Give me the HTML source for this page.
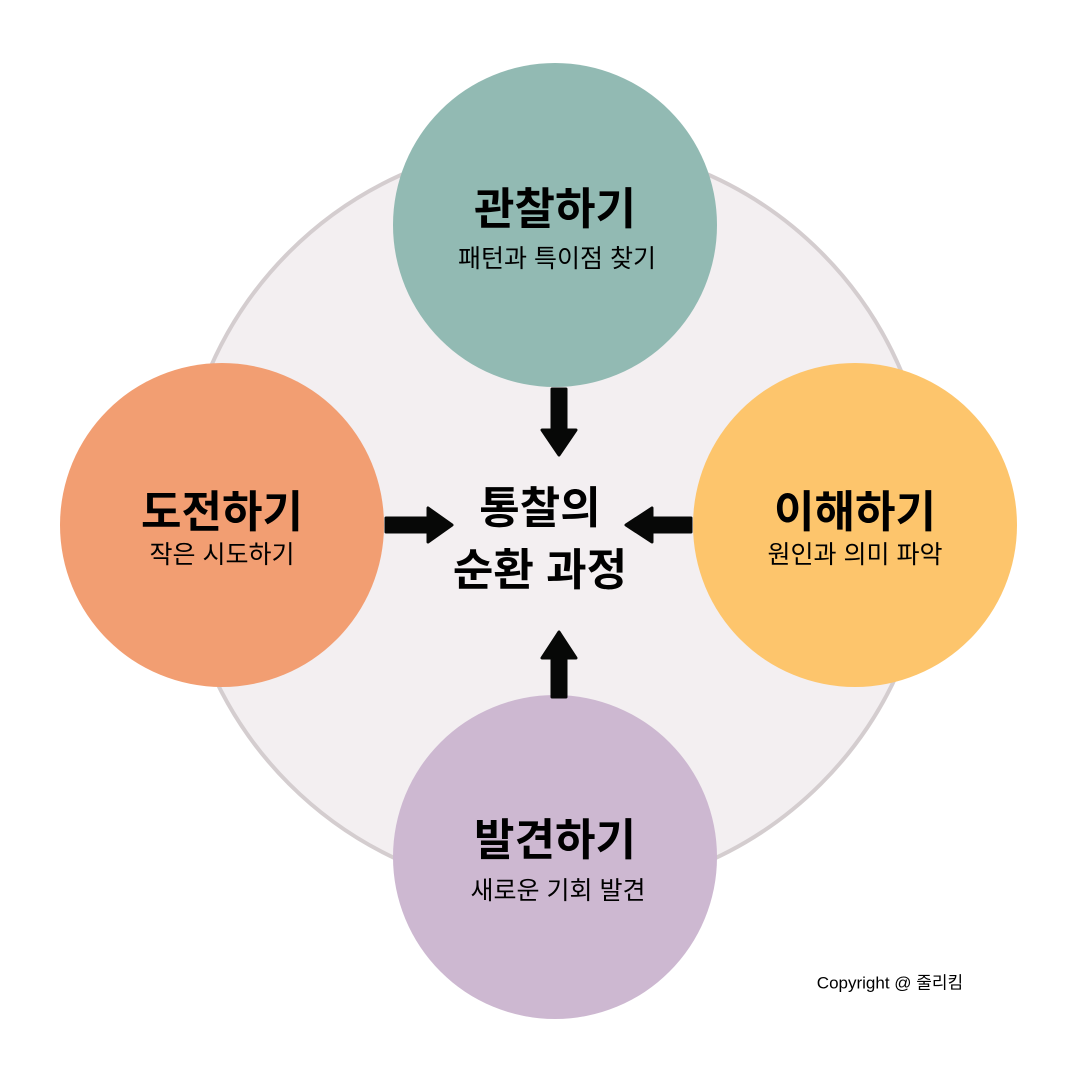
<!DOCTYPE html>
<html><head><meta charset="utf-8"><style>
body{margin:0;width:1080px;height:1080px;background:#fff;position:relative;overflow:hidden;font-family:"Liberation Sans","Noto Sans CJK KR",sans-serif;color:#000}
.c{position:absolute;border-radius:50%}
.t{position:absolute;text-align:center;white-space:nowrap;transform:translate(-50%,-50%)}
.h{font-size:44px;font-weight:bold}
.s{font-size:25px}
</style></head><body>
<div class="c" style="left:177px;top:140px;width:756px;height:756px;background:#f3eff1;border:4px solid #d4cdcf;box-sizing:border-box"></div>
<div class="c" style="left:393px;top:63px;width:324px;height:324px;background:#92bab3"></div>
<div class="c" style="left:60px;top:363px;width:324px;height:324px;background:#f29e72"></div>
<div class="c" style="left:693px;top:363px;width:324px;height:324px;background:#fdc56c"></div>
<div class="c" style="left:393px;top:695px;width:324px;height:324px;background:#cdb8d1"></div>
<svg style="position:absolute;left:0;top:0" width="1080" height="1080">
<g fill="#070807" stroke="#070807" stroke-width="3" stroke-linejoin="round">
<path d="M552 389H566V430H576L559 455L542 430H552Z"/>
<path d="M386 518V532H428V542L452 525L428 508V518Z"/>
<path d="M691 518V532H652V542L626 525L652 508V518Z"/>
<path d="M552 697H566V658H576L559 632L542 658H552Z"/>
</g></svg>
<div class="t h" style="left:555px;top:205px">관찰하기</div>
<div class="t s" style="left:557px;top:257px">패턴과 특이점 찾기</div>
<div class="t h" style="left:222px;top:508px">도전하기</div>
<div class="t s" style="left:222px;top:553px">작은 시도하기</div>
<div class="t h" style="left:855px;top:508px">이해하기</div>
<div class="t s" style="left:855px;top:553px">원인과 의미 파악</div>
<div class="t h" style="left:555px;top:836px">발견하기</div>
<div class="t s" style="left:558px;top:889px">새로운 기회 발견</div>
<div class="t h" style="left:540px;top:504px">통찰의</div>
<div class="t h" style="left:540px;top:566px">순환 과정</div>
<div class="t" style="left:890px;top:981px;font-size:17px">Copyright @ 줄리킴</div>
</body></html>
